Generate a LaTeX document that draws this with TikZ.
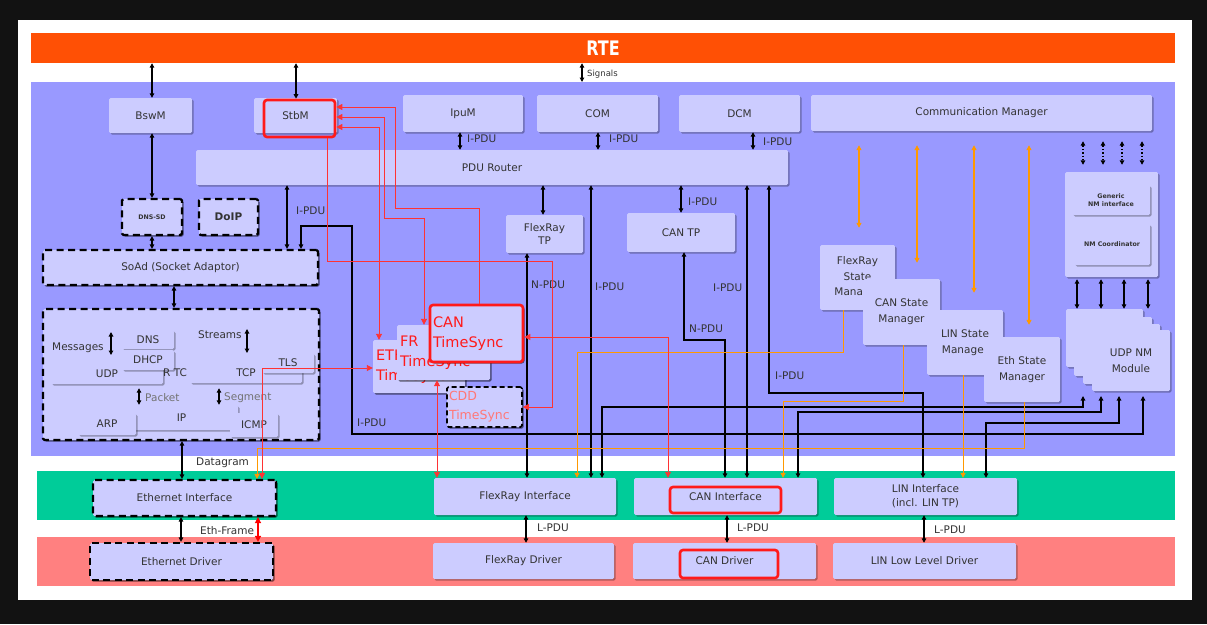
\documentclass[tikz,border=0pt]{standalone}
\usepackage{fontspec}
\setmainfont{DejaVu Sans}
\usetikzlibrary{arrows.meta,shadows,calc}
\definecolor{rte}{HTML}{FF5005}
\definecolor{bsw}{HTML}{9999FF}
\definecolor{boxc}{HTML}{CCCCFF}
\definecolor{grn}{HTML}{00CC99}
\definecolor{drv}{HTML}{FF8080}
\definecolor{org}{HTML}{FF9900}
\definecolor{rl}{HTML}{FF3333}
\definecolor{rf}{HTML}{FF1A1A}
\definecolor{txt}{HTML}{333333}
\definecolor{cddc}{HTML}{FF7777}
\newcommand{\mybox}[7][]{\node[bxs,#1,minimum width={(#5)-(#3)},minimum height={(#6)-(#4)}] (#2) at ({((#3)+(#5))/2},{((#4)+(#6))/2}) {#7};}
\begin{document}
\begin{tikzpicture}[x=1pt,y=-1pt,
  every node/.style={inner sep=0pt, text=txt, font=\fontsize{10.5}{12.5}\selectfont},
  bxs/.style={fill=boxc, rounded corners=1.5pt, align=center,
    drop shadow={shadow xshift=1.6pt,shadow yshift=-1.6pt,fill=black,opacity=0.3}},
  dbox/.style={bxs, draw=black, line width=2.2pt, dash pattern=on 7pt off 4.5pt},
  rfr/.style={draw=rf, line width=2.6pt, rounded corners=3pt},
  tsbox/.style={bxs, align=left, text=rf, font=\fontsize{14.5}{20}\selectfont},
  tiny/.style={font=\fontsize{6.3}{8.5}\selectfont\bfseries},
  lab/.style={anchor=west},
  >={Triangle[length=4.5pt,width=4.5pt]},
  bda/.style={draw=black, line width=1.4pt, <->},
  blk/.style={draw=black, line width=1.7pt, <->},
  rline/.style={draw=rl, line width=0.9pt, >={Triangle[length=6pt,width=6pt]}},
  oline/.style={draw=org, line width=1pt, >={Triangle[length=5pt,width=5pt]}},
  odbl/.style={draw=org, line width=1.3pt, <->, >={Triangle[length=5pt,width=5pt]}}
]
\useasboundingbox (0,0) rectangle (1207,624);
\fill[black!93] (0,0) rectangle (1207,624);
\fill[white] (18,20) rectangle (1192,600);
\fill[bsw] (31,82) rectangle (1175,456);
\fill[grn] (37,471) rectangle (1175,520);
\fill[drv] (37,537) rectangle (1175,586);
\coordinate (bswtop) at (0,82);
\coordinate (nmb) at (0,396);

\node[fill=rte, minimum width=1144pt, minimum height=30pt, text=white] (rte) at (603,48)
  {\scalebox{0.8}[1]{\fontsize{20}{22}\selectfont\bfseries RTE}};

% upper modules
\mybox{bswm}{109}{98}{192}{133}{BswM}
\mybox{stbm}{254}{98}{337}{133}{StbM}
\mybox{ipum}{403}{95}{523}{132}{IpuM}
\mybox{com}{537}{95}{658}{132}{COM}
\mybox{dcm}{679}{95}{800}{132}{DCM}
\mybox{comm}{811}{95}{1152}{131}{Communication Manager}
\mybox{pdur}{196}{150}{788}{185}{PDU Router}
\mybox{frtp}{506}{215}{583}{253}{FlexRay\\TP}
\mybox{cantp}{627}{213}{735}{252}{CAN TP}

% left stack
\mybox[dbox,tiny]{dnssd}{122}{199}{182}{235}{DNS-SD}
\mybox[dbox,font=\fontsize{10.5}{12}\selectfont\bfseries]{doip}{199}{199}{258}{235}{DoIP}
\mybox[dbox]{soad}{43}{250}{318}{285}{SoAd (Socket Adaptor)}
\mybox[dbox]{tcpip}{43}{309}{319}{440}{}
\mybox{udp}{51}{363}{163}{384}{UDP}
\mybox{dns}{122}{330}{174}{349}{DNS}
\mybox{dhcp}{122}{350}{174}{370}{DHCP}
\mybox{tcp}{190}{362}{302}{383}{TCP}
\mybox{tls}{262}{353}{314}{373}{TLS}
\mybox{ip}{125}{405}{238}{430}{IP}
\mybox{arp}{78}{413}{136}{435}{ARP}
\mybox{icmp}{230}{413}{278}{437}{ICMP}

% time sync
\mybox[tsbox,text width=86pt]{ethts}{373}{340}{465}{393}{ETH\\TimeSync}
\mybox[tsbox,text width=87pt]{frts}{397}{325}{490}{380}{FR\\TimeSync}
\mybox[tsbox,text width=87pt,draw=rf,line width=2.6pt,rounded corners=3pt]{cants}{430}{305}{523}{362}{CAN\\TimeSync}
\mybox[dbox,align=left,text width=71pt,text=cddc,line width=1.6pt,dash pattern=on 5pt off 3pt,font=\fontsize{12.5}{19}\selectfont]{cddts}{447}{387}{522}{427}{CDD\\TimeSync}

% state managers
\mybox[font=\fontsize{10.5}{15.5}\selectfont]{frsm}{820}{245}{895}{310}{FlexRay\\State\\Manager}
\mybox[font=\fontsize{10.5}{16}\selectfont]{cansm}{863}{279}{940}{345}{CAN State\\Manager}
\mybox[font=\fontsize{10.5}{16}\selectfont]{linsm}{927}{310}{1003}{375}{LIN State\\Manager}
\mybox[font=\fontsize{10.5}{16}\selectfont]{ethsm}{984}{337}{1060}{402}{Eth State\\Manager}

% NM
\mybox{nmc}{1065}{172}{1158}{277}{}
\mybox[tiny]{gnm}{1072}{185}{1150}{215}{Generic\\NM interface}
\mybox[tiny]{nmco}{1074}{224}{1150}{265}{NM Coordinator}
\mybox{ua}{1066}{309}{1143}{367}{}
\mybox{ub}{1074}{317}{1152}{376}{}
\mybox{uc}{1083}{324}{1160}{384}{}
\mybox[font=\fontsize{10.5}{16}\selectfont]{ud}{1092}{330}{1170}{391}{UDP NM\\Module}

% bus interfaces and drivers
\mybox[dbox]{ethif}{93}{480}{276}{516}{Ethernet Interface}
\mybox[dbox]{ethdrv}{90}{543}{273}{580}{Ethernet Driver}
\mybox{frif}{434}{478}{616}{515}{FlexRay Interface}
\mybox{canif}{634}{478}{817}{515}{CAN Interface}
\mybox[font=\fontsize{10.5}{14}\selectfont]{linif}{834}{478}{1017}{515}{LIN Interface\\(incl. LIN TP)}
\mybox{frdrv}{433}{543}{614}{579}{FlexRay Driver}
\mybox{candrv}{633}{543}{816}{579}{CAN Driver}
\mybox{lindrv}{833}{543}{1016}{579}{LIN Low Level Driver}

% red frames
\node[rfr, minimum width=71pt, minimum height=37pt] (stbmf) at (299.5,118.5) {};
\node[rfr, minimum width=111pt, minimum height=26pt] (caniff) at (725.5,500) {};
\node[rfr, minimum width=98pt, minimum height=28pt] (candrvf) at (729,564) {};

% ---- black double arrows
\draw[bda] (152,0 |- rte.south) -- (152,0 |- bswm.north);
\draw[bda] (296,0 |- rte.south) -- (296,0 |- stbmf.north);
\draw[bda,line width=1.1pt] (582,0 |- rte.south) -- (582,0 |- bswtop);
\node[lab,font=\fontsize{8.5}{10}\selectfont] (lsig) at (587,74) {Signals};
\draw[bda] (152,0 |- bswm.south) -- (152,0 |- dnssd.north);
\draw[bda] (152,0 |- dnssd.south) -- (152,0 |- soad.north);
\draw[bda] (287,0 |- pdur.south) -- (287,0 |- soad.north);
\node[lab] (l1) at (296,211) {I-PDU};
\draw[bda] (460,0 |- ipum.south) -- (460,0 |- pdur.north);
\node[lab] (l2) at (467,139) {I-PDU};
\draw[bda] (598,0 |- com.south) -- (598,0 |- pdur.north);
\node[lab] (l3) at (609,139) {I-PDU};
\draw[bda] (753,0 |- dcm.south) -- (753,0 |- pdur.north);
\node[lab] (l4) at (763,142) {I-PDU};
\draw[bda] (543,0 |- pdur.south) -- (543,0 |- frtp.north);
\draw[bda] (681,0 |- pdur.south) -- (681,0 |- cantp.north);
\node[lab] (l5) at (688,202) {I-PDU};
\draw[bda] (174,0 |- soad.south) -- (174,0 |- tcpip.north);
\coordinate (m1) at (111,332); \coordinate (m2) at (111,355);
\draw[bda] (m1) -- (m2);
\node[lab] (lmsg) at (52,348) {Messages};
\coordinate (s1) at (247,329); \coordinate (s2) at (247,353);
\draw[bda] (s1) -- (s2);
\node[lab] (lstr) at (198,335) {Streams};
\draw[bda] (139,0 |- udp.south) ++(0,4) -- (139,0 |- ip.north);
\node[lab,text=black!55] (lpk) at (145,398) {Packet};
\draw[bda] (219,0 |- tcp.south) ++(0,5) -- (219,0 |- ip.north);
\node[lab,text=black!55] (lsg) at (224,398) {Segment};
\node[lab] (lrtc) at (163,373) {R TC};
\draw[bda] (182,0 |- tcpip.south) -- (182,0 |- ethif.north);
\node[lab] (ldg) at (196,463) {Datagram};
\draw[bda] (181,0 |- ethif.south) -- (181,0 |- ethdrv.north);
\node[lab] (lef) at (200,531) {Eth-Frame};
\draw[bda,draw=red,>={Triangle[length=6pt,width=6pt]}] (258,0 |- ethif.south) -- (258,0 |- ethdrv.north);
\draw[bda] (526,0 |- frif.south) -- (526,0 |- frdrv.north);
\node[lab] (lp1) at (537,528) {L-PDU};
\draw[bda] (727,0 |- canif.south) -- (727,0 |- candrv.north);
\node[lab] (lp2) at (737,528) {L-PDU};
\draw[bda] (924,0 |- linif.south) -- (924,0 |- lindrv.north);
\node[lab] (lp3) at (934,530) {L-PDU};
\foreach \x in {1077,1101,1124,1148}
  \draw[bda] (\x,0 |- nmc.south) ++(0,2) -- (\x,0 |- ua.north);
\foreach \x in {1083,1103,1122,1142}
  \draw[bda,dotted,line width=1.2pt] ($(\x,0 |- comm.south)+(0,10)$) -- ($(\x,0 |- nmc.north)+(0,-7)$);

% ---- black bus connectors
\draw[blk] (527,0 |- frif.north) -- (527,0 |- frtp.south);
\node[lab] (l6) at (531,285) {N-PDU};
\draw[blk] (591,0 |- frif.north) -- (591,0 |- pdur.south);
\node[lab] (l7) at (595,287) {I-PDU};
\draw[blk] (684,0 |- cantp.south) -- (684,340) -- (725,340) -- (725,0 |- canif.north);
\node[lab] (l8) at (689,329) {N-PDU};
\draw[blk] (747,0 |- pdur.south) -- (747,0 |- canif.north);
\node[lab] (l9) at (713,288) {I-PDU};
\draw[blk] (769,0 |- pdur.south) -- (769,393) -- (923,393) -- (923,0 |- linif.north);
\node[lab] (l10) at (775,376) {I-PDU};
\draw[blk,line width=1.5pt] (602,0 |- frif.north) -- (602,407) -- (1083,407) -- (1083,0 |- nmb);
\draw[blk,line width=1.3pt] (798,0 |- canif.north) -- (798,412) -- (1101,412) -- (1101,0 |- nmb);
\draw[blk,line width=1.5pt] (986,0 |- linif.north) -- (986,423) -- (1119,423) -- (1119,0 |- nmb);
\draw[blk,line width=1.5pt] (301,0 |- soad.north) -- (301,226) -- (352,226) -- (352,434) -- (1143,434) -- (1143,0 |- nmb);
\node[lab] (l11) at (357,423) {I-PDU};

% ---- orange
\draw[odbl] ($(859,0 |- comm.south)+(0,14)$) -- ($(859,0 |- frsm.north)+(0,-17)$);
\draw[odbl] ($(917,0 |- comm.south)+(0,14)$) -- ($(917,0 |- cansm.north)+(0,-16)$);
\draw[odbl] ($(974,0 |- comm.south)+(0,14)$) -- ($(974,0 |- linsm.north)+(0,-17)$);
\draw[odbl] ($(1029,0 |- comm.south)+(0,14)$) -- ($(1029,0 |- ethsm.north)+(0,-12)$);
\draw[oline,->] (843,0 |- frsm.south) -- (843,352) -- (577,352) -- (577,0 |- frif.north);
\draw[oline,->] (903,0 |- cansm.south) -- (903,401) -- (783,401) -- (783,0 |- canif.north);
\draw[oline,->] (963,0 |- linsm.south) -- (963,0 |- linif.north);
\draw[oline,->] (1024,0 |- ethsm.south) -- (1024,448) -- (257,448) -- (257,0 |- ethif.north);

% ---- red
\draw[rline,->] (479,0 |- cants.north) -- (479,208) -- (395,208) -- (395,107) -- (stbmf.east |- 0,107);
\draw[rline,<->] (stbmf.east |- 0,117) -- (384,117) -- (384,218) -- (424,218) -- (424,0 |- frts.north);
\draw[rline,<->] (stbmf.east |- 0,127) -- (379,127) -- (379,0 |- ethts.north);
\draw[rline,->] (327,0 |- stbmf.south) -- (327,261) -- (552,261) -- (552,407) -- (cddts.east |- 0,407);
\draw[rline,<->] (cants.east |- 0,337) -- (668,337) -- (668,0 |- canif.north);
\draw[rline,<->] (262,0 |- ethif.north) -- (262,368) -- (ethts.west |- 0,368);
\draw[rline,<->] (437,0 |- frts.south) -- (437,0 |- frif.north);
\end{tikzpicture}
\end{document}
